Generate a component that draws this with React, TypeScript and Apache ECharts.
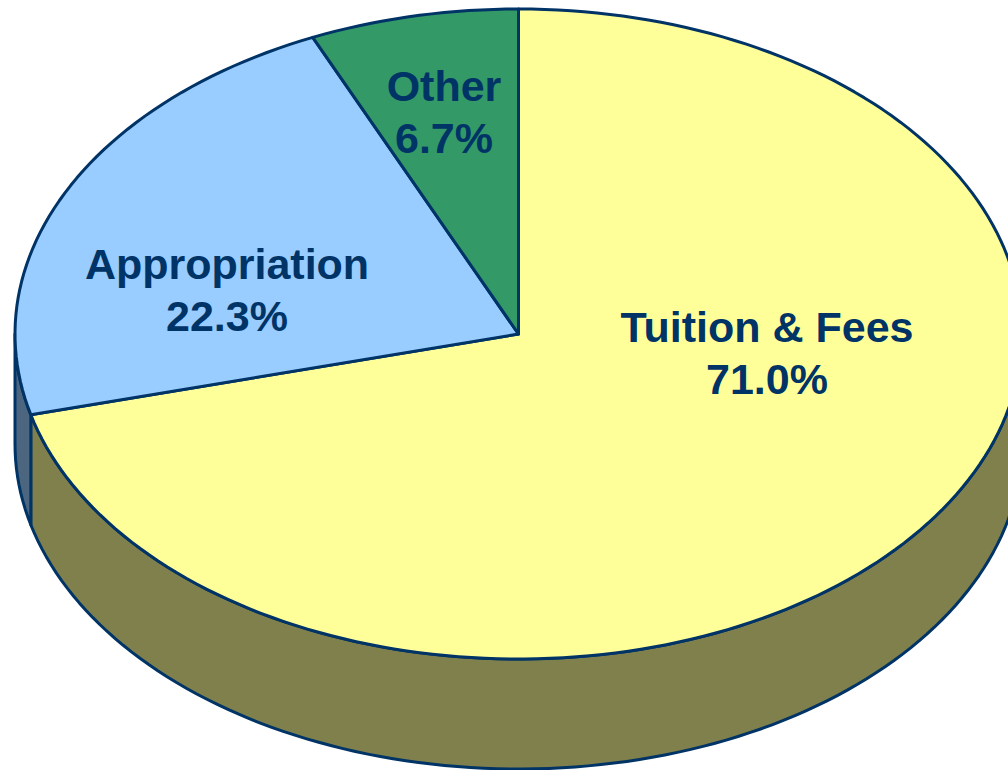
import React, { useEffect, useRef } from "react";
import * as echarts from "echarts";

const categories = ["Tuition & Fees", "Appropriation", "Other"];
const shares = [71.0, 22.3, 6.7];
const topColors = ["#FFFF99", "#99CCFF", "#339966"];
const wallColors = ["#80804C", "#4C6680", "#1A4D33"];
const labelCentres = [
  [767, 353],
  [227, 290],
  [444, 112],
];

const INK = "#003366";
const CX = 518.5;
const CY = 334;
const RX = 503.5;
const RY = 325;
const DEPTH = 110;
const total = shares.reduce((a, b) => a + b, 0);

// angle measured clockwise from 12 o'clock, in degrees
const rim = (deg: number, drop = 0): number[] => {
  const r = (deg * Math.PI) / 180;
  return [CX + RX * Math.sin(r), CY - RY * Math.cos(r) + drop];
};

const arc = (from: number, to: number, drop = 0): number[][] => {
  const steps = Math.max(2, Math.ceil(Math.abs(to - from) / 1.5));
  const pts: number[][] = [];
  for (let i = 0; i <= steps; i++) pts.push(rim(from + ((to - from) * i) / steps, drop));
  return pts;
};

const renderItem = (params: any, api: any) => {
  const i = params.dataIndex;
  let before = 0;
  for (let k = 0; k < i; k++) before += shares[k];
  const start = (before / total) * 360;
  const end = start + (api.value(0) / total) * 360;
  const children: any[] = [];
  const line = { stroke: INK, lineWidth: 3, lineJoin: "round" };

  // The near half of the rim (90 to 270 degrees) shows a side wall.
  const wallFrom = Math.max(start, 90);
  const wallTo = Math.min(end, 270);
  if (wallTo > wallFrom) {
    const upper = arc(wallFrom, wallTo);
    const lower = arc(wallFrom, wallTo, DEPTH).reverse();
    children.push({
      type: "polygon",
      shape: { points: [...upper, ...lower] },
      style: { fill: wallColors[i], ...line },
    });
  }
  children.push({
    type: "polygon",
    shape: { points: [[CX, CY], ...arc(start, end)] },
    style: { fill: topColors[i], ...line },
  });
  children.push({
    type: "text",
    x: labelCentres[i][0],
    y: labelCentres[i][1],
    style: {
      text: `${categories[i]}\n${api.value(0).toFixed(1)}%`,
      fill: INK,
      font: 'bold 43px "Liberation Sans", Arial, sans-serif',
      lineHeight: 52,
      align: "center",
      verticalAlign: "middle",
    },
  });
  return { type: "group", children };
};

export default function App() {
  const ref = useRef<HTMLDivElement>(null);
  useEffect(() => {
    const chart = echarts.init(ref.current!, undefined, { renderer: "svg" });
    chart.setOption({
      animation: false,
      backgroundColor: "#FFFFFF",
      series: [
        {
          type: "custom",
          coordinateSystem: "none",
          silent: true,
          renderItem,
          data: shares.map((value, i) => ({ value: [value], name: categories[i] })),
        },
      ],
    });
    return () => chart.dispose();
  }, []);
  return (
    <div
      ref={ref}
      style={{ position: "absolute", left: 0, top: 0, width: 1008, height: 770, overflow: "hidden" }}
    />
  );
}
